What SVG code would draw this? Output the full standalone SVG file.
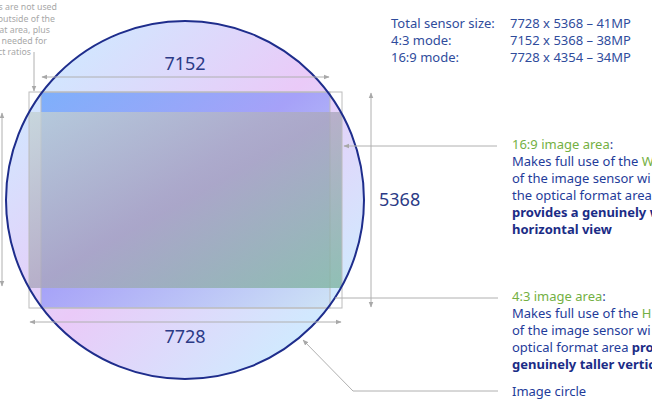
<svg xmlns="http://www.w3.org/2000/svg" width="652" height="408" viewBox="0 0 652 408">
<style>
.dim{fill:none;stroke:#b0b0b0;stroke-width:1}
.num{font-family:"Noto Sans","Open Sans",sans-serif;font-size:18px;fill:#2b3a86}
.note{font-family:"Noto Sans","Open Sans",sans-serif;font-size:8.8px;fill:#a8a8a8}
.spec{font-family:"Noto Sans","Open Sans",sans-serif;font-size:13px;fill:#2f4c9c}
.desc{font-family:"Noto Sans","Open Sans",sans-serif;font-size:13px;fill:#1f3c9a}
.bold{font-weight:bold;fill:#1b2c86}
.green{fill:#74b043}
.outline{fill:none;stroke:#bcbcbc;stroke-width:1}
</style>
<defs>
<linearGradient id="gCircle" x1="0.1" y1="0.1" x2="0.9" y2="0.9">
<stop offset="0" stop-color="#cfe9ff"/>
<stop offset="0.5" stop-color="#eacaf8"/>
<stop offset="1" stop-color="#cdeeff"/>
</linearGradient>
<linearGradient id="g43" x1="0" y1="0" x2="1" y2="1">
<stop offset="0" stop-color="#6fa6fa"/>
<stop offset="0.45" stop-color="#9a9af8"/>
<stop offset="1" stop-color="#cde2f4"/>
</linearGradient>
<linearGradient id="g169" x1="0" y1="0" x2="1" y2="1">
<stop offset="0" stop-color="#c4d2d4"/>
<stop offset="0.5" stop-color="#aaa6bc"/>
<stop offset="1" stop-color="#7db4a0"/>
</linearGradient>
<marker id="arr" viewBox="0 0 10 10" refX="9" refY="5" markerWidth="6" markerHeight="6" orient="auto-start-reverse" markerUnits="userSpaceOnUse">
<path d="M0,1 L10,5 L0,9 z" fill="#a8a8a8"/>
</marker>
</defs>

<g id="image-circle-fill">
<circle cx="185" cy="200" r="179" fill="url(#gCircle)"/>
</g>
<g id="area-4-3">
<rect x="41" y="92" width="289" height="216" fill="url(#g43)" opacity="0.85"/>
<rect x="41" y="92" width="289" height="216" class="outline"/>
</g>
<g id="area-16-9">
<rect x="29" y="112" width="313" height="176" fill="url(#g169)" opacity="0.78"/>
</g>
<g id="sensor">
<rect x="29" y="92" width="313" height="216" class="outline"/>
</g>
<g id="image-circle">
<circle cx="185" cy="200" r="179" fill="none" stroke="#1e2d8c" stroke-width="2"/>
</g>

<g id="connectors">
<line class="dim" x1="42" y1="77" x2="329" y2="77" marker-start="url(#arr)" marker-end="url(#arr)"/>
<line class="dim" x1="30" y1="322" x2="341" y2="322" marker-start="url(#arr)" marker-end="url(#arr)"/>
<line class="dim" x1="371" y1="93" x2="371" y2="307" marker-start="url(#arr)" marker-end="url(#arr)"/>
<line class="dim" x1="2" y1="113" x2="2" y2="286" marker-start="url(#arr)" marker-end="url(#arr)"/>
<line class="dim" x1="34" y1="52" x2="34" y2="91" marker-end="url(#arr)"/>
<line class="dim" x1="497" y1="146" x2="344" y2="146" marker-end="url(#arr)"/>
<line class="dim" x1="498" y1="298" x2="335" y2="298"/>
<polyline class="dim" points="498,391 353,391 303,340" marker-end="url(#arr)"/>
</g>

<g id="dimension-labels">
<text class="num" x="185" y="70" text-anchor="middle">7152</text>
<text class="num" x="185" y="343" text-anchor="middle">7728</text>
<text class="num" x="379" y="206">5368</text>
</g>

<g id="note-top-left">
<text class="note" x="57" y="10" text-anchor="end">s are not used</text>
<text class="note" x="55" y="22" text-anchor="end">outside of the</text>
<text class="note" x="50" y="33" text-anchor="end">at area, plus</text>
<text class="note" x="47" y="44" text-anchor="end">s needed for</text>
<text class="note" x="31" y="55" text-anchor="end">ct ratios</text>
</g>

<g id="specs">
<text class="spec" x="391" y="28">Total sensor size:</text>
<text class="spec" x="510" y="28">7728 x 5368 – 41MP</text>
<text class="spec" x="391" y="45">4:3 mode:</text>
<text class="spec" x="510" y="45">7152 x 5368 – 38MP</text>
<text class="spec" x="391" y="62">16:9 mode:</text>
<text class="spec" x="510" y="62">7728 x 4354 – 34MP</text>
</g>

<g id="label-16-9">
<text class="desc" x="512" y="149"><tspan class="green">16:9 image area</tspan>:</text>
<text class="desc" x="512" y="166">Makes full use of the <tspan class="green">W</tspan></text>
<text class="desc" x="512" y="183">of the image sensor wi</text>
<text class="desc" x="512" y="200">the optical format area</text>
<text class="desc bold" x="512" y="217">provides a genuinely w</text>
<text class="desc bold" x="512" y="234">horizontal view</text>
</g>

<g id="label-4-3">
<text class="desc" x="512" y="301"><tspan class="green">4:3 image area</tspan>:</text>
<text class="desc" x="512" y="318">Makes full use of the <tspan class="green">H</tspan></text>
<text class="desc" x="512" y="335">of the image sensor wi</text>
<text class="desc" x="512" y="352">optical format area <tspan class="bold">pro</tspan></text>
<text class="desc bold" x="512" y="369">genuinely taller vertica</text>
</g>

<g id="label-image-circle">
<text class="desc" x="512" y="396">Image circle</text>
</g>
</svg>
